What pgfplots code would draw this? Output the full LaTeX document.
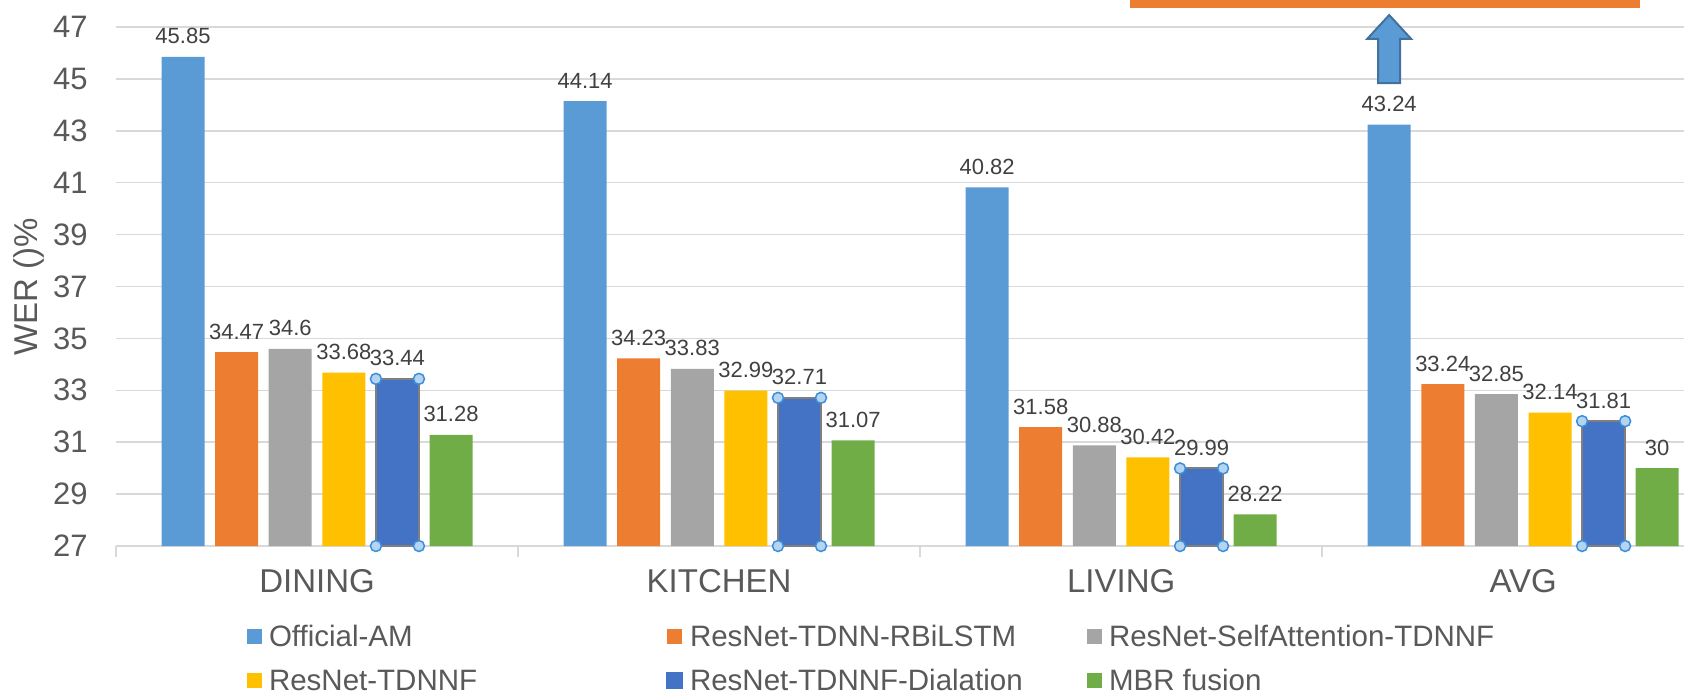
\documentclass[border=0pt]{standalone}
\usepackage{pgfplots}
\pgfplotsset{compat=1.18}
\usepackage{fontspec}
\setmainfont{Liberation Sans}
\definecolor{cA}{HTML}{5B9BD5}
\definecolor{cB}{HTML}{ED7D31}
\definecolor{cC}{HTML}{A5A5A5}
\definecolor{cD}{HTML}{FFC000}
\definecolor{cE}{HTML}{4472C4}
\definecolor{cF}{HTML}{70AD47}
\definecolor{cgrid}{HTML}{D9D9D9}
\definecolor{ctext}{HTML}{595959}
\definecolor{clab}{HTML}{404040}
\definecolor{carrow}{HTML}{41719C}
\definecolor{cout}{HTML}{7F7F7F}
\definecolor{hfill}{HTML}{B4D4F0}
\definecolor{hdraw}{HTML}{3A8EDB}
\pgfplotsset{
  mybar/.style={fill=#1, draw=none, nodes near coords,
    legend image code/.code={\fill[#1] (0pt,-3.75pt) rectangle (7.5pt,3.75pt);}},
}
\begin{document}
\begin{tikzpicture}
\begin{axis}[
  name=ax,
  scale only axis, width=784pt, height=259.5pt,
  xmin=-0.5, xmax=3.4, ymin=27, ymax=47,
  clip mode=individual,
  ybar, bar width=0.107,
  /pgf/number format/assume math mode=true,
  ytick={27,29,...,47},
  xtick={0,1,2,3}, xticklabels={DINING,KITCHEN,LIVING,AVG},
  minor xtick={-0.5,0.5,1.5,2.5},
  axis x line*=bottom, axis y line*=left,
  y axis line style={draw=none},
  x axis line style={color=cgrid, line width=0.75pt},
  tick align=outside, major tick length=0pt, minor tick length=5.5pt,
  tick style={color=cgrid, line width=0.75pt},
  ymajorgrids, grid style={color=cgrid, line width=0.75pt},
  xticklabel style={font=\fontsize{16.5}{19}\selectfont, text=ctext, inner sep=0pt, anchor=north, yshift=-11.5pt},
  yticklabel style={font=\fontsize{15.5}{18}\selectfont, text=ctext, inner sep=0pt, anchor=east, xshift=-14pt},
  ylabel={WER ()\%},
  every axis y label/.style={at={(axis description cs:-0.0558,0.5)}, rotate=90, anchor=center, font=\fontsize{16.5}{19}\selectfont, text=ctext},
  every node near coord/.append style={font=\fontsize{11}{13}\selectfont, text=clab, inner sep=0pt, anchor=base, yshift=6.5pt},
  legend columns=3,
  legend cell align=left,
  legend style={at={(axis description cs:0,0)}, anchor=north west, xshift=65.5pt, yshift=-39.7pt,
    draw=none, fill=none, inner sep=0pt, outer sep=0pt, row sep=11.4pt, column sep=0pt,
    font=\fontsize{14.75}{17}\selectfont, text=ctext,
    nodes={inner sep=0pt, text height=10.6pt, text depth=0pt, anchor=west},
    /tikz/every odd column/.style={column sep=3.5pt}},
]
\addplot[mybar=cA, bar shift=-0.3333] coordinates {(0,45.85) (1,44.14) (2,40.82) (3,43.24)};
\addlegendentry{\makebox[198.5pt][l]{Official-AM}}
\addplot[mybar=cB, bar shift=-0.2] coordinates {(0,34.47) (1,34.23) (2,31.58) (3,33.24)};
\addlegendentry{\makebox[198.5pt][l]{ResNet-TDNN-RBiLSTM}}
\addplot[mybar=cC, bar shift=-0.0667] coordinates {(0,34.6) (1,33.83) (2,30.88) (3,32.85)};
\addlegendentry{\makebox[198.5pt][l]{ResNet-SelfAttention-TDNNF}}
\addplot[mybar=cD, bar shift=0.0667] coordinates {(0,33.68) (1,32.99) (2,30.42) (3,32.14)};
\addlegendentry{\makebox[198.5pt][l]{ResNet-TDNNF}}
\addplot[mybar=cE, draw=cout, line width=1pt, bar shift=0.2] coordinates {(0,33.44) (1,32.71) (2,29.99) (3,31.81)};
\addlegendentry{\makebox[198.5pt][l]{ResNet-TDNNF-Dialation}}
\addplot[mybar=cF, bar shift=0.3333] coordinates {(0,31.28) (1,31.07) (2,28.22) (3,30)};
\addlegendentry{\makebox[198.5pt][l]{MBR fusion}}
\addplot[forget plot, only marks, mark=*, mark size=2.75pt, mark options={fill=hfill, draw=hdraw, line width=0.75pt}]
  coordinates {(0.1465,33.44) (0.2535,33.44) (0.1465,27) (0.2535,27)
               (1.1465,32.71) (1.2535,32.71) (1.1465,27) (1.2535,27)
               (2.1465,29.99) (2.2535,29.99) (2.1465,27) (2.2535,27)
               (3.1465,31.81) (3.2535,31.81) (3.1465,27) (3.2535,27)};
\draw[fill=cA, draw=carrow, line width=1pt] (axis cs:2.6393,44.84) -- (axis cs:2.6393,46.54) -- (axis cs:2.612,46.54) -- (axis cs:2.6667,47.46) -- (axis cs:2.7214,46.54) -- (axis cs:2.6941,46.54) -- (axis cs:2.6941,44.84) -- cycle;
\fill[cB] (axis cs:2.0224,47.73) rectangle (axis cs:3.291,48.3);
\end{axis}
\pgfresetboundingbox
\path[use as bounding box] ([xshift=-58pt,yshift=-72.5pt]ax.south west) rectangle ([yshift=13.5pt]ax.north east);
\end{tikzpicture}
\end{document}
